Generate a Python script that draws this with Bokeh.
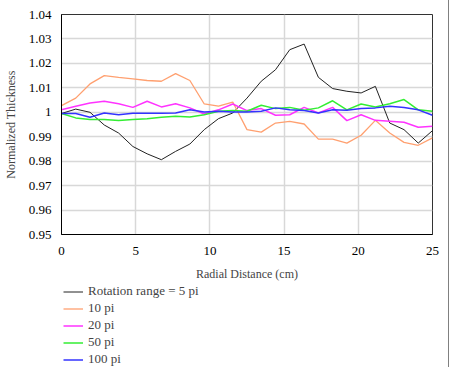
from bokeh.plotting import figure
from bokeh.layouts import column
from bokeh.models import Legend, LegendItem, FixedTicker, Range1d
from bokeh.embed import file_html
from bokeh.resources import INLINE

radial = [0.00, 0.96, 1.92, 2.88, 3.85, 4.81, 5.77, 6.73, 7.69, 8.65,
          9.62, 10.58, 11.54, 12.50, 13.46, 14.42, 15.38, 16.35, 17.31,
          18.27, 19.23, 20.19, 21.15, 22.12, 23.08, 24.04, 25.00]

rot_5pi = [0.9995, 1.0013, 1.0000, 0.9948, 0.9915, 0.9860, 0.9830, 0.9806, 0.9840,
           0.9870, 0.9929, 0.9974, 0.9997, 1.0058, 1.0127, 1.0174, 1.0256, 1.0279,
           1.0143, 1.0097, 1.0086, 1.0079, 1.0106, 0.9956, 0.9929, 0.9874, 0.9925]
rot_10pi = [1.0027, 1.0058, 1.0116, 1.0150, 1.0143, 1.0137, 1.0130, 1.0127, 1.0158,
            1.0130, 1.0034, 1.0025, 1.0042, 0.9929, 0.9919, 0.9956, 0.9963, 0.9952,
            0.9890, 0.9890, 0.9874, 0.9906, 0.9967, 0.9915, 0.9877, 0.9865, 0.9895]
rot_20pi = [1.0010, 1.0025, 1.0038, 1.0045, 1.0035, 1.0020, 1.0045, 1.0022, 1.0035,
            1.0018, 0.9993, 1.0010, 1.0034, 1.0007, 1.0015, 0.9988, 0.9990, 1.0020,
            0.9997, 1.0020, 0.9966, 0.9990, 0.9967, 0.9963, 0.9959, 0.9939, 0.9943]
rot_50pi = [0.9995, 0.9977, 0.9970, 0.9970, 0.9966, 0.9970, 0.9974, 0.9980, 0.9984,
            0.9981, 0.9990, 1.0004, 1.0007, 1.0004, 1.0029, 1.0015, 1.0020, 1.0008,
            1.0018, 1.0047, 1.0010, 1.0034, 1.0022, 1.0035, 1.0052, 1.0010, 1.0004]
rot_100pi = [0.9995, 0.9995, 0.9980, 0.9997, 0.9990, 0.9996, 0.9996, 0.9996, 0.9997,
             1.0010, 1.0001, 1.0004, 1.0001, 1.0001, 1.0004, 1.0018, 1.0010, 1.0007,
             0.9997, 1.0010, 1.0008, 1.0015, 1.0018, 1.0025, 1.0020, 1.0010, 0.9988]

labels = ["Rotation range = 5 pi", "10 pi", "20 pi", "50 pi", "100 pi"]
series = [rot_5pi, rot_10pi, rot_20pi, rot_50pi, rot_100pi]
colors = ["#222222", "#FFA070", "#FF33FF", "#33EE33", "#3333FF"]
widths = [1, 1.3, 1.5, 1.5, 1.5]

x_ticks = [0, 5, 10, 15, 20, 25]
y_ticks = [0.95, 0.96, 0.97, 0.98, 0.99, 1.00, 1.01, 1.02, 1.03, 1.04]
y_tick_labels = {0.95: "0.95", 0.96: "0.96", 0.97: "0.97", 0.98: "0.98", 0.99: "0.99",
                 1.0: "1", 1.01: "1.01", 1.02: "1.02", 1.03: "1.03", 1.04: "1.04"}

FONT = "Liberation Serif"

p = figure(frame_width=371, frame_height=220, output_backend="svg", toolbar_location=None,
           x_range=Range1d(0, 25), y_range=Range1d(0.95, 1.04),
           min_border_left=53, min_border_right=10, min_border_top=14,
           min_border_bottom=46)

for ys, c, w in zip(series, colors, widths):
    p.line(radial, ys, line_color=c, line_width=w)

p.xaxis.ticker = FixedTicker(ticks=x_ticks)
p.yaxis.ticker = FixedTicker(ticks=y_ticks)
p.yaxis.major_label_overrides = y_tick_labels
for ax in (p.xaxis[0], p.yaxis[0]):
    ax.major_tick_line_color = None
    ax.minor_tick_line_color = None
    ax.major_label_text_font = FONT
    ax.major_label_text_font_size = "13px"
    ax.major_label_text_color = "black"
    ax.axis_label_text_font = FONT
    ax.axis_label_text_font_size = "12px"
    ax.axis_label_text_font_style = "normal"
    ax.axis_line_color = "black"
p.xaxis.axis_label = "Radial Distance (cm)"
p.yaxis.axis_label = "Normalized Thickness"
p.xaxis.major_label_standoff = 6
p.yaxis.major_label_standoff = 4
p.xaxis.axis_label_standoff = 9
p.yaxis.axis_label_standoff = 8

p.xgrid.grid_line_color = "#d8d8d8"
p.ygrid.grid_line_color = "#d8d8d8"
p.xgrid.grid_line_width = 1.5
p.ygrid.grid_line_width = 1.5
p.outline_line_color = "#333333"
p.outline_line_width = 1

# legend panel beneath the chart (key lines sit outside its visible range)
lg = figure(width=434, height=84, output_backend="svg", toolbar_location=None,
            min_border=0, x_range=Range1d(0, 1), y_range=Range1d(0, 1))
lg.axis.visible = False
lg.grid.visible = False
lg.outline_line_color = None
keys = []
for c, w in zip(colors, widths):
    keys.append(lg.line([-2, -1], [-2, -1], line_color=c, line_width=w))

legend = Legend(items=[LegendItem(label=l, renderers=[r]) for l, r in zip(labels, keys)],
                location=(2, 0), orientation="vertical")
legend.label_text_font = FONT
legend.label_text_font_size = "13px"
legend.glyph_width = 20
legend.glyph_height = 15
legend.label_height = 15
legend.label_standoff = 5
legend.spacing = 1
legend.padding = 0
legend.margin = 0
legend.border_line_color = None
legend.background_fill_alpha = 0
lg.add_layout(legend)

frame_border = ("-6px 0 0 0 white, 6px 0 0 0 white, "
                "-8px 0 0 0 #808080, 7px 0 0 0 #808080, 0 -2px 0 0 #9a9a9a")
layout = column(p, lg, spacing=0, styles={"box-shadow": frame_border})
open("out.html", "w").write(file_html(layout, INLINE))
